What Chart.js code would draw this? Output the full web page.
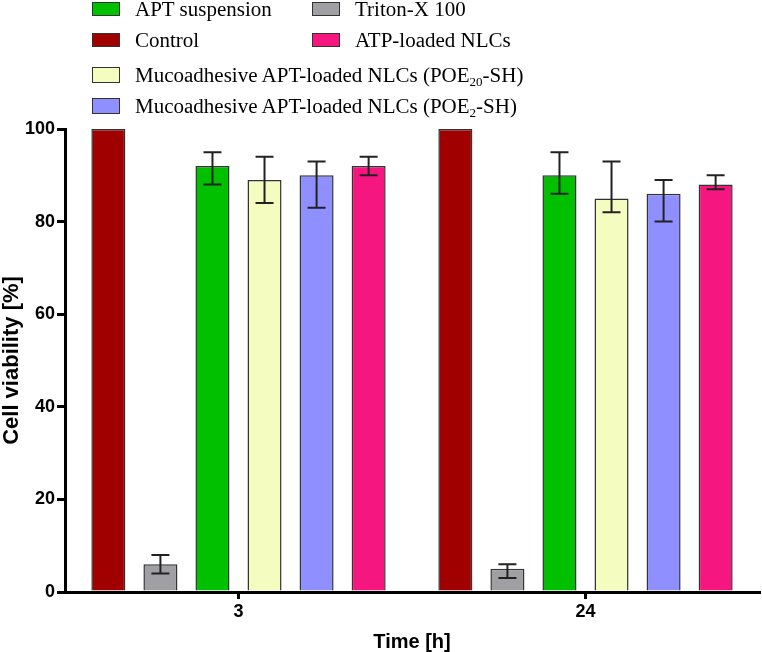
<!DOCTYPE html>
<html>
<head>
<meta charset="utf-8">
<script src="https://cdn.jsdelivr.net/npm/chart.js@4.4.1/dist/chart.umd.min.js"></script>
<style>
  html, body { margin: 0; padding: 0; background: #fff; }
  #wrap { position: relative; width: 762px; height: 652px; }
  #legend { position: absolute; left: 0; top: 0; width: 762px; height: 125px;
            font-family: "Liberation Serif", "Times New Roman", serif; color: #000; }
  .item { position: absolute; height: 20px; }
  .box { position: absolute; left: 0; top: 3px; width: 28px; height: 14px;
         box-sizing: border-box; border: 1.5px solid #333; }
  .txt { position: absolute; left: 43px; top: 0; line-height: 20px; font-size: 20px;
         white-space: nowrap; transform: scaleX(1.05); transform-origin: left center; }
  .txt sub { font-size: 0.62em; vertical-align: -0.3em; line-height: 0; }
</style>
</head>
<body>
<div id="wrap">
  <canvas id="chart" width="762" height="652"></canvas>
  <div id="legend"></div>
</div>
<script>
// 时间点 (x 轴类别)
const timePoints = ['3', '24'];

// 各组名称 (图例文字, 下标用 <sub>)
const groupLabels = [
  'Control',
  'Triton-X 100',
  'APT suspension',
  'Mucoadhesive APT-loaded NLCs (POE<sub>20</sub>-SH)',
  'Mucoadhesive APT-loaded NLCs (POE<sub>2</sub>-SH)',
  'ATP-loaded NLCs'
];
const groupColors = ['#a00000', '#a0a0a4', '#00c000', '#f4fcc0', '#8f8fff', '#f5177f'];

// 细胞存活率均值 [%]
const control = [100, 100];
const triton = [6, 5];
const aptSuspension = [92, 90];
const poe20 = [89, 85];
const poe2 = [90, 86];
const atpNlc = [92, 88];

// 误差 (上 / 下)
const controlUp = [0, 0];
const controlDown = [0, 0];
const tritonUp = [2, 1];
const tritonDown = [2, 2];
const aptSuspensionUp = [3, 5];
const aptSuspensionDown = [4, 4];
const poe20Up = [5, 8];
const poe20Down = [5, 3];
const poe2Up = [3, 3];
const poe2Down = [7, 6];
const atpNlcUp = [2, 2];
const atpNlcDown = [2, 1];

const yTicks = [0, 20, 40, 60, 80, 100];

const means = [control, triton, aptSuspension, poe20, poe2, atpNlc];
const ups = [controlUp, tritonUp, aptSuspensionUp, poe20Up, poe2Up, atpNlcUp];
const downs = [controlDown, tritonDown, aptSuspensionDown, poe20Down, poe2Down, atpNlcDown];

// 图例位置: [数据集序号, 行, 列]
const legendLayout = [[2, 0, 0], [1, 0, 1], [0, 1, 0], [5, 1, 1], [3, 2, 0], [4, 3, 0]];
const legendRowY = [9, 40, 75, 106];
const legendColX = [92, 312];

// 误差线
const errorBars = {
  id: 'errorBars',
  afterDatasetsDraw(chart) {
    const ctx = chart.ctx;
    const y = chart.scales.y;
    ctx.save();
    ctx.strokeStyle = '#222';
    ctx.lineWidth = 2;
    chart.data.datasets.forEach((ds, i) => {
      chart.getDatasetMeta(i).data.forEach((bar, j) => {
        if (!ds.errUp[j] && !ds.errDown[j]) return;
        const v = ds.data[j];
        const top = y.getPixelForValue(v + ds.errUp[j]);
        const bot = y.getPixelForValue(v - ds.errDown[j]);
        const half = 9;
        ctx.beginPath();
        ctx.moveTo(bar.x, top); ctx.lineTo(bar.x, bot);
        ctx.moveTo(bar.x - half, top); ctx.lineTo(bar.x + half, top);
        ctx.moveTo(bar.x - half, bot); ctx.lineTo(bar.x + half, bot);
        ctx.stroke();
      });
    });
    ctx.restore();
  }
};

// HTML 图例
const htmlLegend = {
  id: 'htmlLegend',
  afterUpdate(chart) {
    const el = document.getElementById('legend');
    el.innerHTML = '';
    legendLayout.forEach(([idx, row, col]) => {
      const ds = chart.data.datasets[idx];
      const item = document.createElement('div');
      item.className = 'item';
      item.style.left = legendColX[col] + 'px';
      item.style.top = (legendRowY[row] - 10) + 'px';
      const box = document.createElement('div');
      box.className = 'box';
      box.style.background = ds.backgroundColor;
      if (row > 1) { box.style.height = '16px'; box.style.top = '2px'; }
      const txt = document.createElement('div');
      txt.className = 'txt';
      txt.innerHTML = groupLabels[idx];
      item.appendChild(box);
      item.appendChild(txt);
      el.appendChild(item);
    });
  }
};

const tickFont = { family: 'Liberation Sans, Arial, sans-serif', size: 18, weight: 'bold' };

new Chart(document.getElementById('chart'), {
  type: 'bar',
  data: {
    labels: timePoints,
    datasets: means.map((m, i) => ({
      label: groupLabels[i].replace(/<\/?sub>/g, ''),
      data: m,
      errUp: ups[i],
      errDown: downs[i],
      backgroundColor: groupColors[i],
      borderColor: '#333',
      borderWidth: 1.5,
      categoryPercentage: 0.9,
      barPercentage: 0.654
    }))
  },
  options: {
    responsive: false,
    animation: false,
    devicePixelRatio: 1,
    layout: { padding: { top: 129, right: 3, left: 0, bottom: 0 } },
    plugins: {
      legend: { display: false },
      tooltip: { enabled: false }
    },
    scales: {
      x: {
        z: 1,
        afterFit: s => { s.height = 60; },
        border: { display: true, color: '#000', width: 3 },
        grid: { offset: false, drawOnChartArea: false, drawTicks: true, tickLength: 7,
                color: '#000', lineWidth: 3, tickWidth: 3 },
        ticks: { color: '#000', font: tickFont, padding: 2 },
        title: { display: true, text: 'Time [h]', color: '#000',
                 font: { family: 'Liberation Sans, Arial, sans-serif', size: 20, weight: 'bold', lineHeight: 1 },
                 padding: 0 }
      },
      y: {
        z: 1,
        min: 0,
        max: 100,
        afterFit: s => { s.width = 65; },
        afterBuildTicks: s => { s.ticks = yTicks.map(v => ({ value: v })); },
        border: { display: true, color: '#000', width: 3 },
        grid: { drawOnChartArea: false, drawTicks: true, tickLength: 8,
                color: '#000', lineWidth: 3, tickWidth: 3 },
        ticks: { color: '#000', font: tickFont, padding: 2 },
        title: { display: true, text: 'Cell viability [%]', color: '#000',
                 font: { family: 'Liberation Sans, Arial, sans-serif', size: 22, weight: 'bold', lineHeight: 1 },
                 padding: { top: 1, bottom: 0 } }
      }
    }
  },
  plugins: [errorBars, htmlLegend]
});
</script>
</body>
</html>
